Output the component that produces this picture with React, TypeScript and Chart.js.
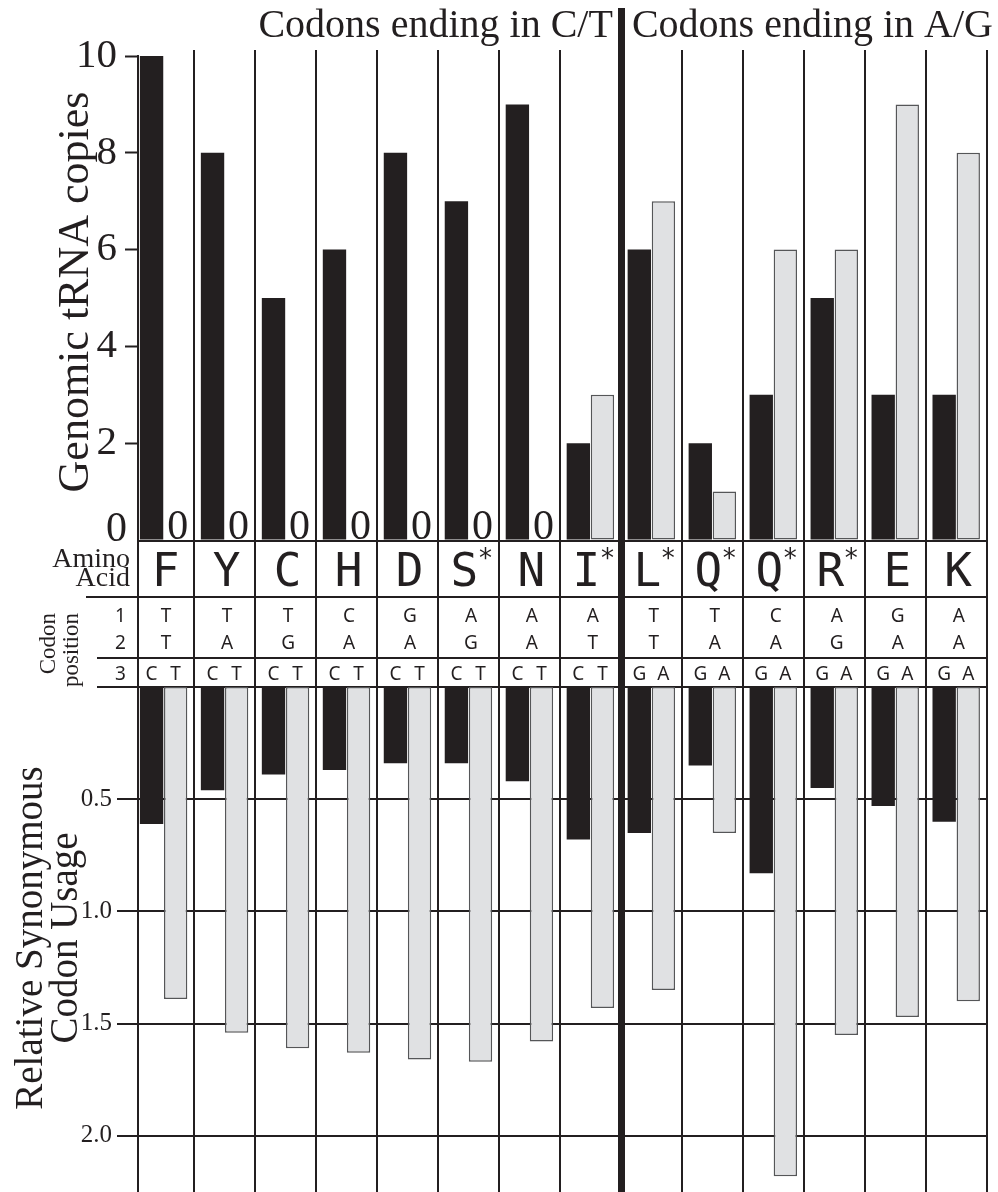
import React, { useEffect, useRef } from 'react';
import { Chart, registerables } from 'chart.js';

Chart.register(...registerables);

// ---------------- data ----------------
const AMINO_ACIDS = ['F', 'Y', 'C', 'H', 'D', 'S', 'N', 'I', 'L', 'Q', 'Q', 'R', 'E', 'K'];
const STARRED = [false, false, false, false, false, true, false, true, true, true, true, true, false, false];
const CODON_POS1 = ['T', 'T', 'T', 'C', 'G', 'A', 'A', 'A', 'T', 'T', 'C', 'A', 'G', 'A'];
const CODON_POS2 = ['T', 'A', 'G', 'A', 'A', 'G', 'A', 'T', 'T', 'A', 'A', 'G', 'A', 'A'];
const CODON_POS3_FIRST = ['C', 'C', 'C', 'C', 'C', 'C', 'C', 'C', 'G', 'G', 'G', 'G', 'G', 'G'];
const CODON_POS3_SECOND = ['T', 'T', 'T', 'T', 'T', 'T', 'T', 'T', 'A', 'A', 'A', 'A', 'A', 'A'];
const TRNA_FIRST = [10, 8, 5, 6, 8, 7, 9, 2, 6, 2, 3, 5, 3, 3];
const TRNA_SECOND = [0, 0, 0, 0, 0, 0, 0, 3, 7, 1, 6, 6, 9, 8];
const RSCU_FIRST = [0.61, 0.46, 0.39, 0.37, 0.34, 0.34, 0.42, 0.68, 0.65, 0.35, 0.83, 0.45, 0.53, 0.6];
const RSCU_SECOND = [1.39, 1.54, 1.61, 1.63, 1.66, 1.67, 1.58, 1.43, 1.35, 0.65, 2.18, 1.55, 1.47, 1.4];
const TRNA_TICKS = [0, 2, 4, 6, 8, 10];
const RSCU_TICKS = [0.5, 1.0, 1.5, 2.0];
const TRNA_RANGE = [0, 10];
const RSCU_RANGE = [0, 2.25];
const GROUP_TITLES = ['Codons ending in C/T', 'Codons ending in A/G'];
const TOP_Y_TITLE = 'Genomic tRNA copies';
const BOTTOM_Y_TITLE = ['Relative Synonymous', 'Codon Usage'];
const ROW_LABEL_AMINO = ['Amino', 'Acid'];
const ROW_LABEL_CODON = ['Codon', 'position'];
const CODON_ROW_NUMBERS = ['1', '2', '3'];

// ---------------- styling / layout ----------------
const INK = '#231f20';
const GRAY = '#e0e1e3';
const GRAY_EDGE = '#555658';
const SERIF = "'Liberation Serif', 'Times New Roman', serif";
const MONO = "'DejaVu Sans Mono', monospace";
const SANS = "'Noto Sans', 'DejaVu Sans', sans-serif";

const W = 998;
const H = 1192;
const TOP_H = 688;
const BOTTOM_TOP = 687;
const BOTTOM_H = H - BOTTOM_TOP;
const AXIS_X = 138;
const PLOT_RIGHT = 986.7;
const X_MIN = -0.42;
const X_MAX = AMINO_ACIDS.length - 0.5;
const CT_COUNT = CODON_POS3_FIRST.filter((c) => c === 'C').length;

const CAT_PCT = 0.79;
const BAR_PCT = 0.97;

function hline(ctx: CanvasRenderingContext2D, x1: number, x2: number, y: number, w: number) {
  ctx.lineWidth = w;
  ctx.beginPath();
  ctx.moveTo(x1, y);
  ctx.lineTo(x2, y);
  ctx.stroke();
}
function vline(ctx: CanvasRenderingContext2D, x: number, y1: number, y2: number, w: number) {
  ctx.lineWidth = w;
  ctx.beginPath();
  ctx.moveTo(x, y1);
  ctx.lineTo(x, y2);
  ctx.stroke();
}

function drawColumnLines(chart: any, topThin: number, topThick: number) {
  const ctx = chart.ctx as CanvasRenderingContext2D;
  const xs = chart.scales.x;
  ctx.save();
  ctx.strokeStyle = INK;
  for (let k = 1; k <= AMINO_ACIDS.length; k++) {
    const x = Math.round(xs.getPixelForValue(k - 0.5));
    const thick = k === CT_COUNT;
    vline(ctx, thick ? x + 0.5 : x, thick ? topThick : topThin, chart.height, thick ? 7 : 2);
  }
  ctx.restore();
}

function xScaleOptions() {
  return {
    type: 'linear',
    min: X_MIN,
    max: X_MAX,
    offset: false,
    display: false,
    grid: { offset: false },
    afterBuildTicks: (s: any) => {
      s.ticks = AMINO_ACIDS.map((_, i) => ({ value: i + 0.5 }));
    },
    afterFit: (s: any) => {
      s.paddingLeft = 0;
      s.paddingRight = 0;
      s.height = 0;
    },
  };
}

function barDatasets(first: number[], second: number[]) {
  return [
    {
      label: 'first codon',
      data: first.map((v, i) => ({ x: i, y: v })),
      backgroundColor: INK,
      borderWidth: 0,
      categoryPercentage: CAT_PCT,
      barPercentage: BAR_PCT,
    },
    {
      label: 'second codon',
      data: second.map((v, i) => ({ x: i, y: v })),
      backgroundColor: GRAY,
      borderColor: GRAY_EDGE,
      borderWidth: (c: any) => (c.parsed && c.parsed.y === 0 ? 0 : 1.5),
      borderSkipped: false,
      categoryPercentage: CAT_PCT,
      barPercentage: BAR_PCT,
    },
  ];
}

const topPlugin = {
  id: 'topDecor',
  beforeDatasetsDraw(chart: any) {
    drawColumnLines(chart, 50, 8);
  },
  afterDraw(chart: any) {
    const ctx = chart.ctx as CanvasRenderingContext2D;
    const xs = chart.scales.x;
    const ys = chart.scales.y;
    const y0 = ys.getPixelForValue(0);
    const m0 = chart.getDatasetMeta(0);
    const m1 = chart.getDatasetMeta(1);
    ctx.save();
    ctx.fillStyle = INK;
    ctx.strokeStyle = INK;

    // table frame
    vline(ctx, AXIS_X, y0, TOP_H, 2);
    hline(ctx, AXIS_X, PLOT_RIGHT, y0 + 1, 2);
    hline(ctx, 86, PLOT_RIGHT, 597, 2);
    hline(ctx, 97, PLOT_RIGHT, 658, 2);
    hline(ctx, 97, PLOT_RIGHT, 687, 2);

    // header titles
    const thickX = xs.getPixelForValue(CT_COUNT - 0.5);
    ctx.font = `40px ${SERIF}`;
    ctx.textBaseline = 'alphabetic';
    ctx.textAlign = 'right';
    ctx.fillText(GROUP_TITLES[0], thickX - 8, 37);
    ctx.textAlign = 'left';
    ctx.fillText(GROUP_TITLES[1], thickX + 11, 37);

    // y title
    ctx.save();
    ctx.translate(88, 292);
    ctx.rotate(-Math.PI / 2);
    ctx.textAlign = 'center';
    ctx.font = `44px ${SERIF}`;
    ctx.fillText(TOP_Y_TITLE, 0, 0);
    ctx.restore();

    // axis zero label
    ctx.font = `42px ${SERIF}`;
    ctx.textAlign = 'right';
    ctx.fillText(String(TRNA_TICKS[0]), 127, y0 + 1);

    // zero-value labels
    ctx.textAlign = 'center';
    TRNA_SECOND.forEach((v, j) => {
      if (v === 0) ctx.fillText('0', m1.data[j].x + 2, y0 - 1);
    });

    // row labels
    ctx.font = `28px ${SERIF}`;
    ctx.textAlign = 'right';
    ctx.fillText(ROW_LABEL_AMINO[0], 130, 567);
    ctx.fillText(ROW_LABEL_AMINO[1], 130, 586);

    ctx.font = `23px ${SERIF}`;
    ctx.save();
    ctx.translate(55, 613);
    ctx.rotate(-Math.PI / 2);
    ctx.textAlign = 'right';
    ctx.fillText(ROW_LABEL_CODON[0], 0, 0);
    ctx.restore();
    ctx.save();
    ctx.translate(78, 613);
    ctx.rotate(-Math.PI / 2);
    ctx.textAlign = 'right';
    ctx.fillText(ROW_LABEL_CODON[1], 0, 0);
    ctx.restore();

    ctx.font = `19px ${SANS}`;
    ctx.textAlign = 'center';
    ctx.fillText(CODON_ROW_NUMBERS[0], 120.5, 622);
    ctx.fillText(CODON_ROW_NUMBERS[1], 120.5, 648.5);
    ctx.fillText(CODON_ROW_NUMBERS[2], 120.5, 679.5);

    // amino acids and codons
    AMINO_ACIDS.forEach((aa, j) => {
      const cx = xs.getPixelForValue(j);
      ctx.font = `46px ${MONO}`;
      ctx.textAlign = 'center';
      ctx.fillText(aa, cx + (STARRED[j] ? -4 : 2), 586);
      if (STARRED[j]) {
        ctx.font = `26px 'DejaVu Sans', sans-serif`;
        ctx.fillText('*', cx + 17, 567);
      }
      ctx.font = `19px ${SANS}`;
      ctx.fillText(CODON_POS1[j], cx + 2.5, 622);
      ctx.fillText(CODON_POS2[j], cx + 2.5, 648.5);
      ctx.fillText(CODON_POS3_FIRST[j], m0.data[j].x, 679.5);
      ctx.fillText(CODON_POS3_SECOND[j], m1.data[j].x, 679.5);
    });
    ctx.restore();
  },
};

const bottomPlugin = {
  id: 'bottomDecor',
  beforeDatasetsDraw(chart: any) {
    drawColumnLines(chart, 0, 0);
  },
  afterDraw(chart: any) {
    const ctx = chart.ctx as CanvasRenderingContext2D;
    ctx.save();
    ctx.fillStyle = INK;
    ctx.font = `39px ${SERIF}`;
    ctx.textAlign = 'center';
    ctx.textBaseline = 'alphabetic';
    const cy = 938 - BOTTOM_TOP;
    [42, 77].forEach((bx, i) => {
      ctx.save();
      ctx.translate(bx, cy);
      ctx.rotate(-Math.PI / 2);
      ctx.fillText(BOTTOM_Y_TITLE[i], 0, 0);
      ctx.restore();
    });
    ctx.restore();
  },
};

export default function App() {
  const topRef = useRef<HTMLCanvasElement>(null);
  const botRef = useRef<HTMLCanvasElement>(null);

  useEffect(() => {
    if (!topRef.current || !botRef.current) return;

    const top = new Chart(topRef.current, {
      type: 'bar',
      data: { datasets: barDatasets(TRNA_FIRST, TRNA_SECOND) as any },
      options: {
        animation: false,
        responsive: false,
        devicePixelRatio: 1,
        layout: { padding: { top: 56, right: W - PLOT_RIGHT, bottom: TOP_H - 540, left: 0 } },
        plugins: { legend: { display: false }, tooltip: { enabled: false } },
        scales: {
          x: xScaleOptions() as any,
          y: {
            min: TRNA_RANGE[0],
            max: TRNA_RANGE[1],
            afterBuildTicks: (s: any) => {
              s.ticks = TRNA_TICKS.map((v) => ({ value: v }));
            },
            afterFit: (s: any) => {
              s.width = AXIS_X;
              s.paddingTop = 0;
              s.paddingBottom = 0;
            },
            grid: {
              drawOnChartArea: false,
              drawTicks: true,
              tickLength: 13,
              tickWidth: 2,
              color: INK,
              tickColor: (c: any) => (c.tick && c.tick.value === 0 ? 'rgba(0,0,0,0)' : INK),
            },
            border: { display: true, color: INK, width: 2 },
            ticks: {
              color: INK,
              padding: 8,
              font: { family: SERIF, size: 41 },
              callback: (v: any) => (v === 0 ? '' : String(v)),
            },
          } as any,
        },
      },
      plugins: [topPlugin],
    });

    const bottom = new Chart(botRef.current, {
      type: 'bar',
      data: { datasets: barDatasets(RSCU_FIRST, RSCU_SECOND) as any },
      options: {
        animation: false,
        responsive: false,
        devicePixelRatio: 1,
        layout: { padding: { top: 0, right: W - PLOT_RIGHT, bottom: 0, left: 0 } },
        plugins: { legend: { display: false }, tooltip: { enabled: false } },
        scales: {
          x: xScaleOptions() as any,
          y: {
            reverse: true,
            min: RSCU_RANGE[0],
            max: RSCU_RANGE[1],
            afterBuildTicks: (s: any) => {
              s.ticks = RSCU_TICKS.map((v) => ({ value: v }));
            },
            afterFit: (s: any) => {
              s.width = AXIS_X;
              s.paddingTop = 0;
              s.paddingBottom = 0;
            },
            grid: {
              drawOnChartArea: true,
              drawTicks: true,
              tickLength: 21,
              lineWidth: 2,
              tickWidth: 2,
              color: INK,
              tickColor: INK,
            },
            border: { display: true, color: INK, width: 2 },
            ticks: {
              color: INK,
              padding: 5,
              font: { family: SERIF, size: 25 },
              callback: (v: any) => Number(v).toFixed(1),
            },
          } as any,
        },
      },
      plugins: [bottomPlugin],
    });

    return () => {
      top.destroy();
      bottom.destroy();
    };
  }, []);

  return (
    <div
      style={{
        position: 'absolute',
        left: 0,
        top: 0,
        width: W,
        height: H,
        background: '#ffffff',
        overflow: 'hidden',
      }}
    >
      <canvas
        ref={topRef}
        width={W}
        height={TOP_H}
        style={{ position: 'absolute', left: 0, top: 0, width: W, height: TOP_H, display: 'block' }}
      />
      <canvas
        ref={botRef}
        width={W}
        height={BOTTOM_H}
        style={{ position: 'absolute', left: 0, top: BOTTOM_TOP, width: W, height: BOTTOM_H, display: 'block' }}
      />
    </div>
  );
}
